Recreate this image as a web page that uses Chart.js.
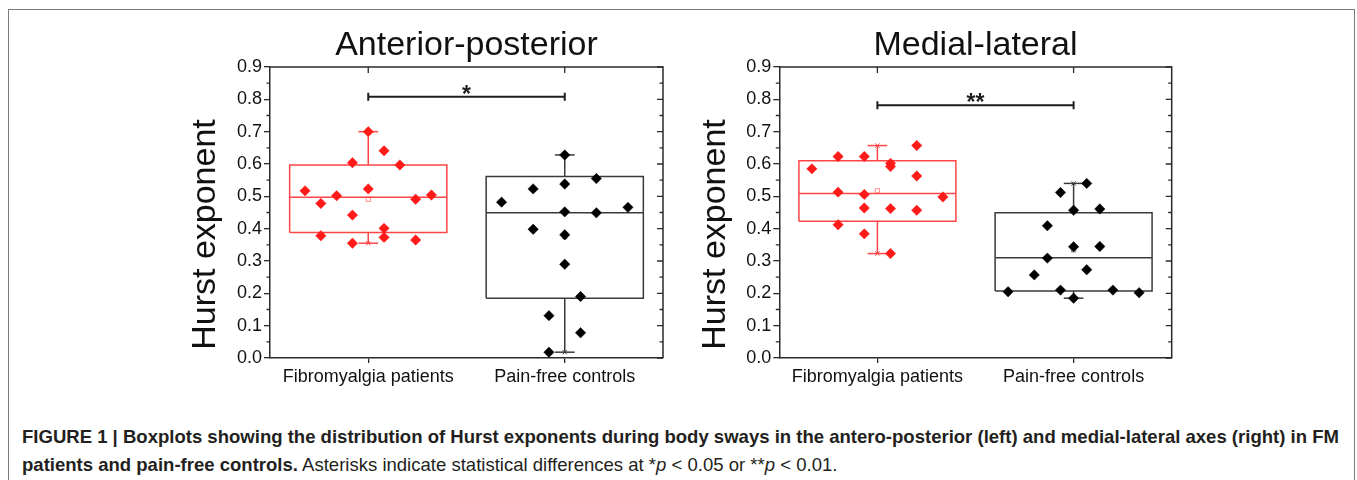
<!DOCTYPE html>
<html><head><meta charset="utf-8">
<script src="https://cdn.jsdelivr.net/npm/chart.js@4.4.1/dist/chart.umd.min.js"></script>
<style>
html,body{margin:0;padding:0;background:#fff;width:1357px;height:480px;overflow:hidden;font-family:"Liberation Sans",Arial,sans-serif;}
#frame{position:absolute;left:8px;top:9px;width:1347px;height:500px;border:1.5px solid #7a7a7a;box-sizing:border-box;}
canvas{position:absolute;}
#cap{position:absolute;left:22px;top:423px;color:#231f20;font-size:18.5px;line-height:28px;white-space:nowrap;}
#cap b{font-weight:bold;}
</style></head><body>
<div id="frame"></div>
<canvas id="ap" style="left:150px;top:10px;width:540px;height:400px"></canvas>
<canvas id="ml" style="left:660px;top:10px;width:540px;height:400px"></canvas>
<div id="cap"><span id="l1"><b>FIGURE 1 | Boxplots showing the distribution of Hurst exponents during body sways in the antero-posterior (left) and medial-lateral axes (right) in FM</b></span><br><b>patients and pain-free controls.</b> Asterisks indicate statistical differences at *<i>p</i> &lt; 0.05 or **<i>p</i> &lt; 0.01.</div>
<script>
// ---------- data ----------
const categories = ['Fibromyalgia patients', 'Pain-free controls'];
const panelTitles = ['Anterior-posterior', 'Medial-lateral'];
const yAxisTitle = 'Hurst exponent';

// Anterior-posterior: individual values and their beeswarm slot (column) index
const apFmValues  = [0.517, 0.478, 0.378, 0.502, 0.604, 0.442, 0.355, 0.700, 0.523, 0.641, 0.401, 0.373, 0.597, 0.491, 0.365, 0.504];
const apFmSlots   = [-4, -3, -3, -2, -1, -1, -1, 0, 0, 1, 1, 1, 2, 3, 3, 4];
const apCtrlValues = [0.482, 0.523, 0.398, 0.131, 0.018, 0.628, 0.538, 0.452, 0.381, 0.290, 0.190, 0.078, 0.555, 0.449, 0.466];
const apCtrlSlots  = [-4, -2, -2, -1, -1, 0, 0, 0, 0, 0, 1, 1, 2, 2, 4];
// box stats: [min, q1, median, q3, max, mean]
const apFmBox   = [0.355, 0.388, 0.497, 0.597, 0.700, 0.491];
const apCtrlBox = [0.018, 0.185, 0.449, 0.561, 0.628, 0.375];

// Medial-lateral
const mlFmValues = [0.585, 0.623, 0.513, 0.412, 0.623, 0.506, 0.464, 0.384, 0.602, 0.592, 0.462, 0.323, 0.657, 0.563, 0.457, 0.498];
const mlFmSlots  = [-5, -3, -3, -3, -1, -1, -1, -1, 1, 1, 1, 1, 3, 3, 3, 5];
const mlCtrlValues = [0.205, 0.257, 0.409, 0.309, 0.512, 0.210, 0.457, 0.344, 0.185, 0.540, 0.273, 0.461, 0.345, 0.210, 0.202];
const mlCtrlSlots  = [-5, -3, -2, -2, -1, -1, 0, 0, 0, 1, 1, 2, 2, 3, 5];
const mlFmBox   = [0.323, 0.423, 0.509, 0.610, 0.657, 0.517];
const mlCtrlBox = [0.185, 0.207, 0.310, 0.449, 0.540, 0.334];

// significance brackets
const sigLevels = [0.808, 0.782];
const sigLabels = ['*', '**'];

// ---------- style ----------
const FONT = '"Liberation Sans", Arial, sans-serif';
const BOX_HALF = 0.40, CAP_HALF = 0.05;
const RED = '#ff1a1a', RED_BOX = '#ff4545', BLACK = '#000000', BLACK_BOX = '#3a3a3a';
const AXIS = '#2a2a2a';

function boxDatasets(g, box, color, meanColor) {
  const [mn, q1, md, q3, mx, mean] = box;
  const line = (data) => ({ data, showLine: true, borderColor: color, borderWidth: 1.5, pointRadius: 0,
                            fill: false, tension: 0, borderJoinStyle: 'miter', clip: false });
  return [
    line([{x:g-BOX_HALF,y:q1},{x:g+BOX_HALF,y:q1},{x:g+BOX_HALF,y:q3},{x:g-BOX_HALF,y:q3},{x:g-BOX_HALF,y:q1}]),
    line([{x:g-BOX_HALF,y:md},{x:g+BOX_HALF,y:md}]),
    line([{x:g,y:q3},{x:g,y:mx}]),
    line([{x:g,y:q1},{x:g,y:mn}]),
    line([{x:g-CAP_HALF,y:mx},{x:g+CAP_HALF,y:mx}]),
    line([{x:g-CAP_HALF,y:mn},{x:g+CAP_HALF,y:mn}]),
    { data:[{x:g,y:mx},{x:g,y:mn}], pointStyle:'crossRot', pointRadius:3, borderColor:color, borderWidth:1, backgroundColor:color, clip:false },
    { data:[{x:g,y:mean}], pointStyle:'rect', pointRadius:3, borderColor:meanColor, backgroundColor:'rgba(255,255,255,0)', borderWidth:1, clip:false }
  ];
}
function pointsDataset(g, values, slots, unit, color) {
  return { data: values.map((v, i) => ({ x: g + slots[i] * unit, y: v })), pointStyle: 'rectRot',
           pointRadius: 5.2, backgroundColor: color, borderColor: color, borderWidth: 0.5, clip: false };
}

const decor = {
  id: 'decor',
  afterDatasetsDraw(chart, args, opts) {
    const { ctx, chartArea: a, scales: { x, y } } = chart;
    ctx.save();
    ctx.strokeStyle = AXIS; ctx.lineWidth = 1.5;
    ctx.beginPath(); ctx.moveTo(a.left, a.top); ctx.lineTo(a.right, a.top); ctx.lineTo(a.right, a.bottom); ctx.stroke();
    ctx.lineWidth = 1.3;
    ctx.beginPath();
    y.ticks.forEach(t => { const py = y.getPixelForValue(t.value); ctx.moveTo(a.right - 6, py); ctx.lineTo(a.right, py); });
    for (let i = 0; i < y.ticks.length - 1; i++) {
      const py = y.getPixelForValue((y.ticks[i].value + y.ticks[i + 1].value) / 2);
      ctx.moveTo(a.left - 3.5, py); ctx.lineTo(a.left, py);
      ctx.moveTo(a.right - 3.5, py); ctx.lineTo(a.right, py);
    }
    x.ticks.forEach(t => { const px = x.getPixelForValue(t.value); ctx.moveTo(px, a.top); ctx.lineTo(px, a.top + 6); });
    ctx.stroke();
    // significance bracket
    const x0 = x.getPixelForValue(0), x1 = x.getPixelForValue(1), py = y.getPixelForValue(opts.level);
    ctx.strokeStyle = '#1e1e1e'; ctx.lineWidth = 2;
    ctx.beginPath();
    ctx.moveTo(x0, py); ctx.lineTo(x1, py);
    ctx.moveTo(x0, py - 4); ctx.lineTo(x0, py + 4);
    ctx.moveTo(x1, py - 4); ctx.lineTo(x1, py + 4);
    ctx.stroke();
    ctx.fillStyle = '#1e1e1e'; ctx.font = 'bold 23px ' + FONT; ctx.textAlign = 'center'; ctx.textBaseline = 'alphabetic';
    ctx.fillText(opts.label, (x0 + x1) / 2, py + 5);
    // y axis title
    ctx.translate(a.left - 64, (a.top + a.bottom) / 2 + 22);
    ctx.rotate(-Math.PI / 2);
    ctx.font = '34px ' + FONT; ctx.textBaseline = 'middle'; ctx.fillStyle = '#111';
    ctx.fillText(yAxisTitle, 0, 0);
    ctx.restore();
  }
};

function makePanel(id, title, groups, unit, sigIndex, yWidth, padRight) {
  const datasets = [];
  groups.forEach((gr, g) => datasets.push(pointsDataset(g, gr.values, gr.slots, unit, gr.color)));
  groups.forEach((gr, g) => datasets.push(...boxDatasets(g, gr.box, gr.boxColor, gr.meanColor)));
  const cv = document.getElementById(id);
  cv.width = 540; cv.height = 400;
  return new Chart(cv, {
    type: 'scatter',
    data: { datasets },
    plugins: [decor],
    options: {
      responsive: false, animation: false, devicePixelRatio: 1,
      layout: { padding: { left: 0, right: padRight, top: 0, bottom: 0 } },
      plugins: {
        legend: { display: false }, tooltip: { enabled: false },
        title: { display: true, text: title, fullSize: false, color: '#111',
                 font: { family: FONT, size: 34, weight: 'normal', lineHeight: 1.2 },
                 padding: { top: 15.6, bottom: 0.6 } },
        decor: { level: sigLevels[sigIndex], label: sigLabels[sigIndex] }
      },
      scales: {
        x: {
          type: 'linear', min: -0.5, max: 1.5,
          afterBuildTicks: s => { s.ticks = categories.map((c, i) => ({ value: i })); },
          afterFit: s => { s.height = 52; },
          ticks: { callback: v => categories[v], color: '#111', padding: 3, maxRotation: 0, autoSkip: false,
                   font: { family: FONT, size: 18 } },
          grid: { drawOnChartArea: false, tickLength: 5, color: AXIS, lineWidth: 1.3 },
          border: { color: AXIS, width: 1.5 }
        },
        y: {
          min: 0, max: 0.9,
          afterFit: s => { s.width = yWidth; },
          ticks: { stepSize: 0.1, callback: v => v.toFixed(1), color: '#111', padding: 2,
                   font: { family: FONT, size: 18 } },
          grid: { drawOnChartArea: false, tickLength: 6, color: AXIS, lineWidth: 1.3 },
          border: { color: AXIS, width: 1.5 }
        }
      }
    }
  });
}

makePanel('ap', panelTitles[0], [
  { values: apFmValues, slots: apFmSlots, box: apFmBox, color: RED, boxColor: RED_BOX, meanColor: '#ff8a8a' },
  { values: apCtrlValues, slots: apCtrlSlots, box: apCtrlBox, color: BLACK, boxColor: BLACK_BOX, meanColor: '#9a9a9a' }
], 0.0804, 0, 120, 27);

makePanel('ml', panelTitles[1], [
  { values: mlFmValues, slots: mlFmSlots, box: mlFmBox, color: RED, boxColor: RED_BOX, meanColor: '#ff8a8a' },
  { values: mlCtrlValues, slots: mlCtrlSlots, box: mlCtrlBox, color: BLACK, boxColor: BLACK_BOX, meanColor: '#9a9a9a' }
], 0.0668, 1, 119.3, 28.3);

// fit caption line width to the reference
(function () {
  const cap = document.getElementById('cap');
  const w = document.getElementById('l1').getBoundingClientRect().width;
  const fs = parseFloat(getComputedStyle(cap).fontSize);
  cap.style.fontSize = (fs * 1318 / w).toFixed(2) + 'px';
})();
</script>
</body></html>
